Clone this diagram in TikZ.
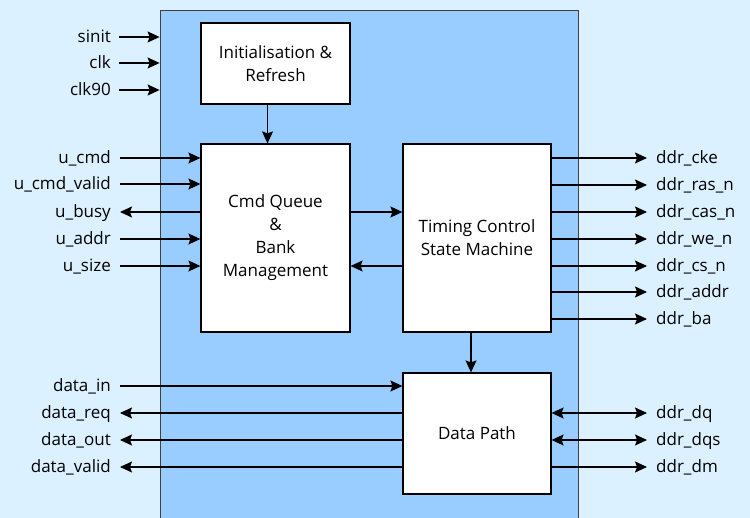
\documentclass[tikz,border=0pt]{standalone}
\usepackage{fontspec}
\setmainfont{Open Sans}
\usetikzlibrary{arrows.meta,positioning}
\definecolor{paleblue}{HTML}{DCF1FF}
\definecolor{chipblue}{HTML}{99CCFF}
\tikzset{
  >={Stealth[length=12pt,width=11pt,inset=2pt]},
  chipbox/.style={draw=black!75, fill=chipblue, line width=0.8pt, minimum width=418pt, minimum height=513pt},
  blk/.style={draw=black, fill=white, line width=1.2pt, align=center, font=\fontsize{17}{23}\selectfont},
  sig/.style={inner sep=0pt, text height=14pt, text depth=2pt, font=\fontsize{17}{20}\selectfont},
  wire/.style={line width=1.2pt},
}
\begin{document}
\begin{tikzpicture}[x=1pt,y=1pt]
\fill[paleblue] (0,0) rectangle (750,518);
\useasboundingbox (0,0) rectangle (750,518);
\node[chipbox] (chip) at (369,251.5) {};
\node[blk, minimum width=149pt, minimum height=81pt] (init) at (275.5,454.5) {Initialisation \&\\Refresh};
\node[blk, minimum width=149pt, minimum height=188pt] (cmdq) at (275.5,280) {Cmd Queue\\\&\\Bank\\Management};
\node[blk, minimum width=148pt, minimum height=188pt] (timing) at (477,280) {Timing Control\\State Machine};
\node[blk, minimum width=148pt, minimum height=121pt] (dpath) at (477,84.5) {Data Path};
\draw[wire,->] ([xshift=-8pt]init.south) -- ([xshift=-8pt]cmdq.north);
\draw[wire,->] ([xshift=-6pt]timing.south) -- ([xshift=-6pt]dpath.north);
\draw[wire,->] ([yshift=26pt]cmdq.east) -- ([yshift=26pt]timing.west);
\draw[wire,->] ([yshift=-28pt]timing.west) -- ([yshift=-28pt]cmdq.east);
\foreach \y/\t [count=\i] in {481/sinit,455/clk,428/clk90} {
    \node[sig, anchor=east] (ck\i) at (111,\y) {\t};
    \draw[wire,->] ([xshift=8pt]ck\i.east) -- (chip.west |- ck\i);
}
\foreach \y/\t/\d [count=\i] in {360/u\_cmd/<-,334/u\_cmd\_valid/<-,306/u\_busy/->,279/u\_addr/<-,252/u\_size/<-} {
    \node[sig, anchor=east] (u\i) at (111,\y) {\t};
    \draw[wire,\d] (cmdq.west |- u\i) -- ([xshift=9pt]u\i.east);
}
\foreach \y/\t/\d [count=\i] in {132/data\_in/<-,105/data\_req/->,78/data\_out/->,51/data\_valid/->} {
    \node[sig, anchor=east] (d\i) at (111,\y) {\t};
    \draw[wire,\d] (dpath.west |- d\i) -- ([xshift=9pt]d\i.east);
}
\foreach \y/\t [count=\i] in {360/ddr\_cke,333/ddr\_ras\_n,306/ddr\_cas\_n,279/ddr\_we\_n,252/ddr\_cs\_n,226/ddr\_addr,199/ddr\_ba} {
    \node[sig, anchor=west] (q\i) at (656,\y) {\t};
    \draw[wire,->] (timing.east |- q\i) -- ([xshift=-9pt]q\i.west);
}
\foreach \y/\t/\d [count=\i] in {105/ddr\_dq/<->,78/ddr\_dqs/<->,51/ddr\_dm/->} {
    \node[sig, anchor=west] (m\i) at (656,\y) {\t};
    \draw[wire,\d] (dpath.east |- m\i) -- ([xshift=-9pt]m\i.west);
}
\end{tikzpicture}
\end{document}
